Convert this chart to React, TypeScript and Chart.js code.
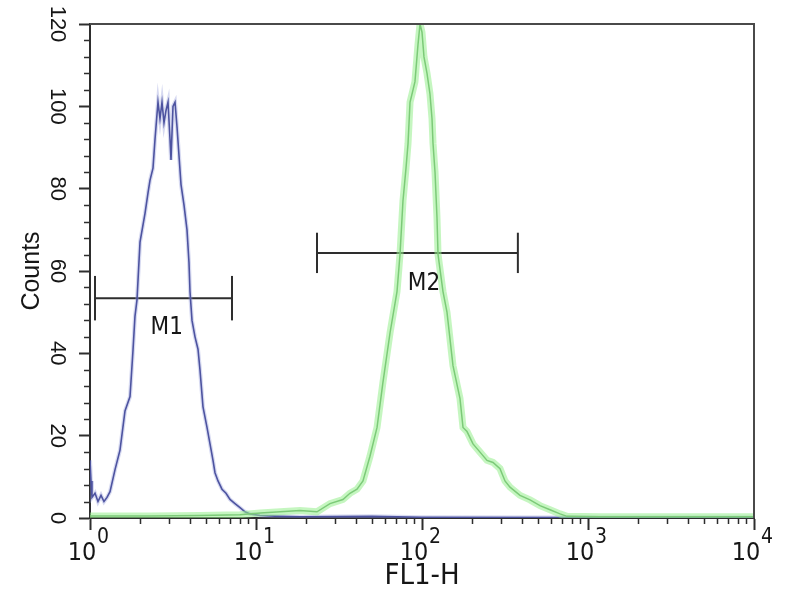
import React, { useEffect, useRef } from 'react';
import { Chart, registerables } from 'chart.js';

Chart.register(...registerables);

// ---- data ----
const blueX = [1, 1.014, 1.028, 1.072, 1.117, 1.165, 1.214, 1.266, 1.32, 1.414, 1.516, 1.625, 1.742, 1.816, 1.866, 1.919, 2.001, 2.145, 2.236, 2.298, 2.396, 2.464, 2.532, 2.568, 2.64, 2.715, 2.791, 2.87, 2.951, 3.034, 3.076, 3.162, 3.252, 3.343, 3.437, 3.534, 3.684, 3.84, 3.948, 4.003, 4.116, 4.291, 4.473, 4.598, 4.794, 5.068, 5.284, 5.508, 5.662, 5.904, 6.239, 6.596, 6.972, 7.471, 8.012, 8.586, 9.202, 10.57, 13.95, 18.41, 50, 100, 1000, 10000];
const blueY = [14, 9, 5, 6, 4, 5.5, 4, 5, 6.4, 11.7, 16.5, 26, 29.5, 40.8, 49, 53, 67, 74, 79, 82, 85, 92, 98, 101, 97, 101, 96, 99, 101, 92, 87, 100, 101, 95, 88, 81, 76, 70, 62, 55, 48, 44, 41, 36, 27, 22, 18, 14, 11, 9, 7, 6, 4.5, 3.5, 2.5, 1.5, 1, 0.6, 0.4, 0.3, 0.4, 0.2, 0.1, 0.1];

const greenX = [1, 2.3, 4.6, 8.0, 10.6, 14.0, 18.4, 23.3, 27.9, 33.4, 36.8, 40.6, 44.1, 48.6, 53.6, 58.2, 64.2, 70.7, 73.7, 76.8, 80.1, 82.4, 84.7, 88.3, 90.7, 94.6, 97.3, 100, 102.8, 107.2, 111.7, 114.9, 116.5, 119.8, 123.1, 124.9, 133.8, 141.4, 153.7, 169.4, 176.6, 186.7, 202.9, 223.6, 246.4, 267.8, 295.1, 316.2, 338.9, 389.5, 447.4, 513.8, 590.3, 678.3, 747.3, 1181, 10000];
const greenY = [0.5, 0.5, 0.6, 0.8, 1.2, 1.5, 1.8, 1.5, 3.5, 4.5, 6, 7, 9, 15, 22, 33, 45, 55, 64, 77, 85, 91, 101, 104, 106, 115, 120, 118, 112, 108, 103, 97, 91, 84, 73, 64, 55, 50, 37, 29, 22, 21, 18, 16, 14, 13.5, 12, 9, 7.5, 5.5, 4.4, 3, 2, 1, 0.4, 0.3, 0.3];

const markerNames = ['M1', 'M2'];
const markerStart = [1.072, 23.3];
const markerEnd = [7.17, 378];
const markerLevel = [53.4, 64.4];
const markerCapHalf = [5.4, 4.9];
const markerLabelX = [2.9, 102.8];
const markerLabelY = [46.1, 56.8];

const xTickValues = [1, 10, 100, 1000, 10000];
const xTickBase = ['10', '10', '10', '10', '10'];
const xTickExponents = ['0', '1', '2', '3', '4'];
const xMinorDigits = [2, 3, 4, 5, 6, 7, 8, 9];
const yTickValues = [0, 20, 40, 60, 80, 100, 120];
const yMinorStep = 4;
const xTitle = 'FL1-H';
const yTitle = 'Counts';

const NARROW = "'Liberation Sans Narrow', 'DejaVu Sans Condensed', 'Liberation Sans', sans-serif";
const SANS = "'Liberation Sans', Arial, sans-serif";
const INK = '#161616';
const AXIS = '#2e2e2e';

const framePlugin = {
  id: 'frameAndMarkers',
  afterDraw(chart: any) {
    const { ctx, chartArea: a, scales } = chart;
    const xs = scales.x;
    const ys = scales.y;
    ctx.save();
    // top & right frame
    ctx.strokeStyle = '#4a4a4a';
    ctx.lineWidth = 2;
    ctx.beginPath();
    ctx.moveTo(a.left, a.top);
    ctx.lineTo(a.right, a.top);
    ctx.lineTo(a.right, a.bottom);
    ctx.stroke();
    // minor ticks
    ctx.strokeStyle = AXIS;
    ctx.lineWidth = 1.5;
    ctx.beginPath();
    for (let v = ys.min; v <= ys.max; v += yMinorStep) {
      if (yTickValues.includes(v)) continue;
      const py = Math.round(ys.getPixelForValue(v)) + 0.5;
      ctx.moveTo(a.left - 6, py);
      ctx.lineTo(a.left, py);
    }
    for (let k = 0; k < xTickValues.length - 1; k++) {
      for (const d of xMinorDigits) {
        const px = Math.round(xs.getPixelForValue(d * xTickValues[k])) + 0.5;
        ctx.moveTo(px, a.bottom);
        ctx.lineTo(px, a.bottom + 6);
      }
    }
    ctx.stroke();
    // marker labels
    ctx.fillStyle = INK;
    ctx.font = `24px ${NARROW}`;
    ctx.textAlign = 'center';
    ctx.textBaseline = 'middle';
    markerNames.forEach((name, i) => {
      ctx.fillText(name, xs.getPixelForValue(markerLabelX[i]), ys.getPixelForValue(markerLabelY[i]));
    });
    ctx.restore();
  },
};

export default function App() {
  const ref = useRef<HTMLCanvasElement | null>(null);

  useEffect(() => {
    if (!ref.current) return;
    const blue = blueX.map((x, i) => ({ x, y: blueY[i] }));
    const green = greenX.map((x, i) => ({ x, y: greenY[i] }));
    const line = (data: any, color: string, width: number, label: string) => ({
      label,
      data,
      borderColor: color,
      borderWidth: width,
      pointRadius: 0,
      tension: 0,
      fill: false,
      xAxisID: 'x',
      yAxisID: 'y',
    });
    const markerSets: any[] = [];
    markerNames.forEach((name, i) => {
      markerSets.push(line([{ x: markerStart[i], y: markerLevel[i] }, { x: markerEnd[i], y: markerLevel[i] }], '#2e2e2e', 2, name));
      markerSets.push(line([{ x: markerStart[i], y: markerLevel[i] - markerCapHalf[i] }, { x: markerStart[i], y: markerLevel[i] + markerCapHalf[i] }], '#2e2e2e', 2, name + ' start'));
      markerSets.push(line([{ x: markerEnd[i], y: markerLevel[i] - markerCapHalf[i] }, { x: markerEnd[i], y: markerLevel[i] + markerCapHalf[i] }], '#2e2e2e', 2, name + ' end'));
    });

    const chart = new Chart(ref.current, {
      type: 'line',
      data: {
        datasets: [
          line(green, 'rgba(150, 238, 140, 0.55)', 7, 'green halo'),
          line(green, '#5e9e60', 1.5, 'green'),
          line(blue, 'rgba(140, 150, 215, 0.35)', 4, 'blue halo'),
          line(blue, '#2c3183', 1.6, 'blue'),
          ...markerSets,
        ],
      },
      plugins: [framePlugin],
      options: {
        animation: false,
        responsive: false,
        devicePixelRatio: 1,
        layout: { padding: { left: 0, right: 46, top: 24, bottom: 0 } },
        plugins: { legend: { display: false }, tooltip: { enabled: false } },
        scales: {
          x: {
            type: 'logarithmic',
            min: 1,
            max: 10000,
            position: 'bottom',
            weight: 0,
            afterBuildTicks: (s: any) => { s.ticks = xTickValues.map((v) => ({ value: v })); },
            afterFit: (s: any) => { s.height = 6; },
            grid: { display: true, drawOnChartArea: false, drawTicks: true, tickLength: 12, tickColor: AXIS, tickWidth: 2 },
            border: { display: true, color: AXIS, width: 2 },
            ticks: {
              autoSkip: false, minRotation: 0, maxRotation: 0, labelOffset: -8,
              mirror: true, padding: -48,
              font: { family: NARROW, size: 25, lineHeight: 1 }, color: INK,
              callback: (_v: any, i: number) => xTickBase[i],
            },
          },
          xsup: {
            type: 'logarithmic',
            min: 1,
            max: 10000,
            position: 'bottom',
            weight: 1,
            afterBuildTicks: (s: any) => { s.ticks = xTickValues.map((v) => ({ value: v })); },
            afterFit: (s: any) => { s.height = 76; },
            grid: { display: false, drawTicks: false },
            border: { display: false },
            ticks: {
              autoSkip: false, minRotation: 0, maxRotation: 0, labelOffset: 13, padding: 3,
              font: { family: NARROW, size: 21, lineHeight: 1 }, color: INK,
              callback: (_v: any, i: number) => xTickExponents[i],
            },
            title: { display: true, text: xTitle, color: INK, font: { family: NARROW, size: 29 }, padding: { top: 0, bottom: 6 } },
          },
          y: {
            type: 'linear',
            min: 0,
            max: 120,
            position: 'left',
            afterBuildTicks: (s: any) => { s.ticks = yTickValues.map((v) => ({ value: v })); },
            afterFit: (s: any) => { s.width = 90; },
            grid: { display: true, drawOnChartArea: false, drawTicks: true, tickLength: 11, tickColor: AXIS, tickWidth: 2 },
            border: { display: true, color: AXIS, width: 2 },
            ticks: {
              autoSkip: false, minRotation: -90, maxRotation: -90, crossAlign: 'center', padding: 4,
              font: { family: SANS, size: 22 }, color: INK,
              callback: (v: any) => String(v),
            },
            title: { display: true, text: yTitle, color: INK, font: { family: SANS, size: 25 }, padding: { top: 17, bottom: 0 } },
          },
        },
      } as any,
    });
    return () => chart.destroy();
  }, []);

  return (
    <div style={{ position: 'fixed', left: 0, top: 0, width: 800, height: 600, background: '#fff' }}>
      <canvas ref={ref} width={800} height={600} style={{ display: 'block' }} />
    </div>
  );
}
